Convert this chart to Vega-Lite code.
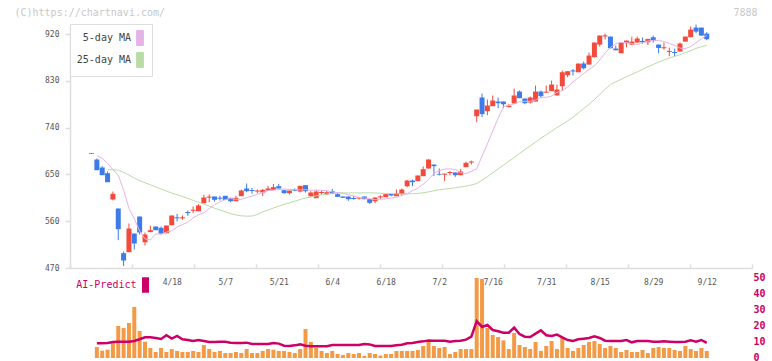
{
 "$schema": "https://vega.github.io/schema/vega-lite/v6.json",
 "width": 682, "height": 334,
 "autosize": {"type": "none"},
 "padding": {"left": 70, "top": 24, "right": 20, "bottom": 3},
 "background": "white",
 "config": {"view": {"stroke": null}, "axis": {"labelFont": "DejaVu Sans Mono", "titleFont": "DejaVu Sans Mono", "grid": false}, "legend": {"labelFont": "DejaVu Sans Mono"}},
 "data": {"values": [
{"i":0,"o":689.5,"h":691,"l":689.5,"c":691},
{"i":1,"o":678.6,"h":680.6,"l":658.1,"c":658.1,"v":6.9,"a":9.2,"m5":686},
{"i":2,"o":663.3,"h":665.8,"l":648.5,"c":648.5,"v":4.6,"a":9.2,"m5":681},
{"i":3,"o":652.3,"h":655.6,"l":635,"c":635,"v":5.2,"a":9.4,"m5":671,"m25":659},
{"i":4,"o":601.7,"h":617,"l":600,"c":612.7,"v":10.2,"a":10,"m5":659,"m25":659},
{"i":5,"o":584.4,"h":584.4,"l":523.5,"c":544.6,"v":20,"a":10.2,"m5":648.9,"m25":658},
{"i":6,"o":498.5,"h":501.7,"l":473.5,"c":484.4,"v":18.75,"a":10.2,"m5":619.8,"m25":654},
{"i":7,"o":500.4,"h":555.6,"l":500.4,"c":545.9,"v":21.9,"a":10.2,"m5":585,"m25":649},
{"i":8,"o":536.3,"h":536.3,"l":505.6,"c":517.1,"v":31.9,"a":10.6,"m5":564.5,"m25":643},
{"i":9,"o":569,"h":569,"l":534.4,"c":538.3,"v":16.9,"a":11.7,"m5":540.9,"m25":638},
{"i":10,"o":519.6,"h":538.3,"l":513.3,"c":534.4,"v":10.2,"a":12.9,"m5":526.1,"m25":634},
{"i":11,"o":539,"h":551.7,"l":539,"c":542.7,"v":6.25,"a":12.9,"m5":524,"m25":630},
{"i":12,"o":549.8,"h":549.8,"l":542.7,"c":542.7,"v":3.75,"a":12.5,"m5":535.7,"m25":626},
{"i":13,"o":547.3,"h":549.8,"l":534.4,"c":536.3,"v":6.25,"a":11.9,"m5":535,"m25":622},
{"i":14,"o":536.9,"h":551.7,"l":536.9,"c":551.7,"v":3.75,"a":14.2,"m5":538.9,"m25":618},
{"i":15,"o":552.3,"h":571,"l":552.3,"c":571,"v":5.6,"a":12.1,"m5":541.6,"m25":614},
{"i":16,"o":567.5,"h":574.2,"l":559.4,"c":565.5,"v":4.4,"a":13.75,"m5":548.9,"m25":611},
{"i":17,"o":565.5,"h":571,"l":562.7,"c":567.5,"v":3.75,"a":11.7,"m5":553.5,"m25":607.5},
{"i":18,"o":577.7,"h":580.6,"l":570.4,"c":575.7,"v":3.75,"a":11.25,"m5":558.4,"m25":604},
{"i":19,"o":580,"h":588.3,"l":575.4,"c":582,"v":4.4,"a":10.6,"m5":566.4,"m25":600},
{"i":20,"o":579.2,"h":592.8,"l":579.2,"c":590.2,"v":3.75,"a":11.25,"m5":572.3,"m25":596.5},
{"i":21,"o":594.7,"h":610.8,"l":594.7,"c":605.6,"v":8.1,"a":10.6,"m5":576.1,"m25":593},
{"i":22,"o":605.2,"h":611.4,"l":596.6,"c":607.2,"v":5.6,"a":10,"m5":584.1,"m25":589},
{"i":23,"o":607.5,"h":607.5,"l":597.9,"c":601.1,"v":3.75,"a":10,"m5":592,"m25":585},
{"i":24,"o":605.3,"h":608.8,"l":599.8,"c":603.3,"v":4.4,"a":10.2,"m5":596.9,"m25":581.5},
{"i":25,"o":608.8,"h":608.8,"l":601.1,"c":601.1,"v":3.1,"a":10.2,"m5":601.5,"m25":578.1},
{"i":26,"o":605,"h":605,"l":596.6,"c":598.5,"v":3.1,"a":9.6,"m5":603.7,"m25":574.5},
{"i":27,"o":598.5,"h":608.8,"l":598.5,"c":605,"v":3.75,"a":9.4,"m5":602.2,"m25":572.1},
{"i":28,"o":608.2,"h":620.9,"l":608.2,"c":619,"v":3.1,"a":9.4,"m5":601.9,"m25":570.4},
{"i":29,"o":622.9,"h":632.5,"l":615.8,"c":617.7,"v":5.6,"a":9.6,"m5":605.5,"m25":569.7},
{"i":30,"o":620,"h":624.2,"l":612.7,"c":618,"v":3.1,"a":8.75,"m5":608.3,"m25":569.9},
{"i":31,"o":617,"h":620.9,"l":613.9,"c":619,"v":3.1,"a":8.75,"m5":611.7,"m25":572.9},
{"i":32,"o":615.2,"h":622.2,"l":608.8,"c":620.3,"v":4.4,"a":8.75,"m5":615.6,"m25":578.2},
{"i":33,"o":619,"h":628,"l":619,"c":622.9,"v":5.6,"a":8.75,"m5":618.7,"m25":581.2},
{"i":34,"o":620.3,"h":631.8,"l":620.3,"c":625.4,"v":5.2,"a":9.4,"m5":619.5,"m25":585.4},
{"i":35,"o":627.3,"h":631.8,"l":622.9,"c":622.9,"v":4.4,"a":9,"m5":621,"m25":588.9},
{"i":36,"o":619.7,"h":619.7,"l":612.6,"c":613.9,"v":4.4,"a":7.7,"m5":621.9,"m25":592.5},
{"i":37,"o":613.9,"h":619,"l":611.3,"c":619,"v":3.75,"a":7.5,"m5":621.1,"m25":595.3},
{"i":38,"o":620.7,"h":622.9,"l":617.7,"c":618.7,"v":3.1,"a":7.9,"m5":620.8,"m25":598.4},
{"i":39,"o":617,"h":628,"l":615.2,"c":628,"v":5.6,"a":8.5,"m5":620.1,"m25":601.7},
{"i":40,"o":629.3,"h":629.3,"l":615.2,"c":617.7,"v":18.1,"a":7.7,"m5":620.7,"m25":604.7},
{"i":41,"o":608.1,"h":617.7,"l":606.2,"c":615.2,"v":10,"a":7.3,"m5":619.6,"m25":606.6},
{"i":42,"o":604.3,"h":620.3,"l":604.3,"c":617.1,"v":6.25,"a":7.3,"m5":619.9,"m25":608.6},
{"i":43,"o":614.2,"h":619,"l":611.3,"c":616.2,"v":4.4,"a":7.3,"m5":619.5,"m25":610.6},
{"i":44,"o":612,"h":618.4,"l":610,"c":615.8,"v":3.1,"a":7.3,"m5":618.7,"m25":612.1},
{"i":45,"o":617.7,"h":622.2,"l":612.6,"c":612.6,"v":4.4,"a":8.1,"m5":616.3,"m25":613.5},
{"i":46,"o":612,"h":614.5,"l":606.8,"c":606.8,"v":2.5,"a":8.1,"m5":615.2,"m25":614.4},
{"i":47,"o":607.5,"h":607.5,"l":604.9,"c":604.9,"v":1.9,"a":8.1,"m5":613.6,"m25":614.5},
{"i":48,"o":607.5,"h":607.5,"l":599.1,"c":602.3,"v":3.1,"a":8.1,"m5":611.1,"m25":614.4},
{"i":49,"o":604.6,"h":608.8,"l":601.7,"c":602.6,"v":2.5,"a":8.1,"m5":608.5,"m25":614.5},
{"i":50,"o":603.6,"h":606.2,"l":601.7,"c":605.6,"v":3.1,"a":8.1,"m5":606,"m25":614.4},
{"i":51,"o":607.5,"h":607.5,"l":602.3,"c":602.3,"v":1.25,"a":8.75,"m5":604.4,"m25":614.6},
{"i":52,"o":602.3,"h":602.3,"l":593.4,"c":595.3,"v":3.1,"a":8.5,"m5":603.5,"m25":614.7},
{"i":53,"o":598.5,"h":605.6,"l":594.7,"c":605.6,"v":2.5,"a":7.5,"m5":601.6,"m25":614.3},
{"i":54,"o":605.8,"h":610,"l":603,"c":607.8,"v":1.5,"a":7.5,"m5":602.2,"m25":613.8},
{"i":55,"o":606.2,"h":612,"l":606.2,"c":612,"v":2.5,"a":7.5,"m5":603,"m25":613.4},
{"i":56,"o":612.6,"h":612.6,"l":608.1,"c":609.4,"v":2.5,"a":7.5,"m5":604.5,"m25":613.1},
{"i":57,"o":608.1,"h":620.9,"l":608.1,"c":613.9,"v":4.4,"a":7.9,"m5":605.9,"m25":612.8},
{"i":58,"o":612,"h":622.9,"l":608.8,"c":620.9,"v":4.4,"a":8.3,"m5":609.6,"m25":612.5},
{"i":59,"o":627.3,"h":639.5,"l":625.4,"c":638.2,"v":4.4,"a":9.2,"m5":612.7,"m25":612.4},
{"i":60,"o":638.2,"h":640.2,"l":627.3,"c":635,"v":4.4,"a":9.4,"m5":618.9,"m25":613},
{"i":61,"o":637,"h":647.9,"l":637,"c":647.9,"v":5,"a":10,"m5":623.5,"m25":613.4},
{"i":62,"o":646.6,"h":665.2,"l":646.6,"c":660,"v":7.5,"a":10.4,"m5":631.2,"m25":614.8},
{"i":63,"o":661.4,"h":678.7,"l":661.4,"c":678.7,"v":10,"a":11,"m5":640.4,"m25":616.4},
{"i":64,"o":669,"h":669,"l":646.6,"c":665.8,"v":7.5,"a":10.8,"m5":651.9,"m25":618.8},
{"i":65,"o":651,"h":661.4,"l":648,"c":649.5,"v":6.25,"a":10.8,"m5":657.4,"m25":620.3},
{"i":66,"o":649.5,"h":651.5,"l":637,"c":651.5,"v":6.9,"a":10.8,"m5":660.3,"m25":621.6},
{"i":67,"o":652.7,"h":656.2,"l":648,"c":654.7,"v":2.5,"a":10.2,"m5":660.6,"m25":623},
{"i":68,"o":653.7,"h":653.7,"l":645.3,"c":648.5,"v":3.75,"a":10.6,"m5":659.4,"m25":624.4},
{"i":69,"o":648.5,"h":660.7,"l":648.5,"c":655.6,"v":5.6,"a":10.8,"m5":653.4,"m25":625.8},
{"i":70,"o":663.9,"h":674.8,"l":663.9,"c":672.2,"v":5.6,"a":11.5,"m5":651.5,"m25":627.4},
{"i":71,"o":672.8,"h":676.7,"l":669,"c":674.8,"v":5.6,"a":13.3,"m5":656,"m25":629.8},
{"i":72,"o":762,"h":774.8,"l":750.5,"c":774.8,"v":50,"a":23.1,"m5":660.9,"m25":632.4},
{"i":73,"o":797.9,"h":805.6,"l":760.1,"c":765.9,"v":49.4,"a":19.4,"m5":685.1,"m25":639.2},
{"i":74,"o":771.6,"h":794,"l":763.9,"c":782.5,"v":18.75,"a":20.6,"m5":708.6,"m25":645.8},
{"i":75,"o":781.2,"h":801.8,"l":781.2,"c":792.1,"v":14.4,"a":17.5,"m5":733.8,"m25":653},
{"i":76,"o":790.2,"h":797.9,"l":777.4,"c":787,"v":13.1,"a":16.7,"m5":757.8,"m25":660.5},
{"i":77,"o":790.2,"h":790.2,"l":777.4,"c":785,"v":11,"a":15.8,"m5":780.5,"m25":667.8},
{"i":78,"o":779.3,"h":785.7,"l":779.3,"c":782.5,"v":5.6,"a":15.8,"m5":782.5,"m25":675.4},
{"i":79,"o":786.4,"h":815.2,"l":786.4,"c":801.8,"v":15.6,"a":19,"m5":785.8,"m25":682.5},
{"i":80,"o":809.4,"h":811.4,"l":796.6,"c":796.6,"v":8.1,"a":15,"m5":789.7,"m25":690.3},
{"i":81,"o":796,"h":796,"l":785,"c":787,"v":6.9,"a":13.3,"m5":790.6,"m25":697.7},
{"i":82,"o":788.3,"h":799.8,"l":786.4,"c":797.9,"v":5.6,"a":13.1,"m5":790.6,"m25":704.8},
{"i":83,"o":790.2,"h":821,"l":790.2,"c":809.4,"v":10,"a":15.2,"m5":793.2,"m25":712.1},
{"i":84,"o":809.4,"h":811.4,"l":796.6,"c":800.5,"v":4.4,"a":17.3,"m5":798.5,"m25":719.7},
{"i":85,"o":807.2,"h":821,"l":807.2,"c":809.2,"v":7.5,"a":14.2,"m5":798.3,"m25":726.2},
{"i":86,"o":810.1,"h":830.6,"l":810.1,"c":822.9,"v":10.6,"a":13.75,"m5":800.7,"m25":733.1},
{"i":87,"o":801.8,"h":822.9,"l":801.8,"c":813.3,"v":5.6,"a":14.6,"m5":807.8,"m25":740.1},
{"i":88,"o":819.6,"h":849.7,"l":811.3,"c":846.5,"v":13.1,"a":12.9,"m5":810.9,"m25":746.2},
{"i":89,"o":840.8,"h":848.5,"l":836.9,"c":848.5,"v":6.25,"a":11.25,"m5":818.3,"m25":752.8},
{"i":90,"o":850,"h":853,"l":840.1,"c":848,"v":4.4,"a":10.6,"m5":827.9,"m25":760.1},
{"i":91,"o":846.5,"h":863.2,"l":846.5,"c":863.2,"v":6.25,"a":11.7,"m5":836,"m25":768.1},
{"i":92,"o":863.2,"h":867.1,"l":851.7,"c":854.2,"v":8.1,"a":12.1,"m5":844.1,"m25":776.7},
{"i":93,"o":861.3,"h":884.4,"l":861.3,"c":878.6,"v":10,"a":12.5,"m5":852.2,"m25":784.7},
{"i":94,"o":875.4,"h":903.6,"l":875.4,"c":903.6,"v":10.6,"a":13.5,"m5":858.7,"m25":793.9},
{"i":95,"o":899.7,"h":917.1,"l":895.9,"c":917.1,"v":8.75,"a":12.5,"m5":869.7,"m25":803.8},
{"i":96,"o":915.4,"h":920.9,"l":909.4,"c":917.4,"v":6.25,"a":10.8,"m5":883.3,"m25":813.6},
{"i":97,"o":915.1,"h":915.1,"l":892.7,"c":892.7,"v":7.5,"a":10.6,"m5":894.1,"m25":823.3},
{"i":98,"o":892,"h":897.8,"l":888.8,"c":888.8,"v":6.25,"a":10.6,"m5":901.8,"m25":828},
{"i":99,"o":883.1,"h":903.6,"l":883.1,"c":903.6,"v":3.75,"a":10.6,"m5":903.8,"m25":832.9},
{"i":100,"o":902.3,"h":907.4,"l":894.6,"c":907.4,"v":5,"a":11.25,"m5":903.8,"m25":837.8},
{"i":101,"o":899.7,"h":915.1,"l":899.7,"c":905.5,"v":3.75,"a":9.8,"m5":901.9,"m25":842.4},
{"i":102,"o":903.6,"h":915.1,"l":903.6,"c":911.3,"v":3.75,"a":10.6,"m5":899.6,"m25":847.1},
{"i":103,"o":906.8,"h":913.2,"l":901.7,"c":904.2,"v":5,"a":10.6,"m5":903.3,"m25":852.2},
{"i":104,"o":904.2,"h":910.6,"l":898.5,"c":910.6,"v":3.1,"a":10.6,"m5":906.4,"m25":857},
{"i":105,"o":913.8,"h":917,"l":903.6,"c":907.4,"v":6.25,"a":10.2,"m5":907.8,"m25":861.4},
{"i":106,"o":899.7,"h":899.7,"l":883.1,"c":893.3,"v":6.9,"a":10.2,"m5":907.8,"m25":865.8},
{"i":107,"o":892.6,"h":903.6,"l":890.1,"c":894.6,"v":6.25,"a":10.4,"m5":905.4,"m25":870.1},
{"i":108,"o":885.6,"h":894,"l":877.3,"c":887.6,"v":6.25,"a":10.2,"m5":901.8,"m25":873.9},
{"i":109,"o":885.4,"h":892,"l":877.3,"c":883.4,"v":5,"a":10,"m5":898.3,"m25":877},
{"i":110,"o":886.3,"h":903.6,"l":886.3,"c":901.7,"v":4.4,"a":10,"m5":893,"m25":880.3},
{"i":111,"o":905.5,"h":915.1,"l":905.5,"c":915.1,"v":7.5,"a":10.2,"m5":891.8,"m25":884.1},
{"i":112,"o":913.8,"h":934.4,"l":913.8,"c":928.6,"v":5.6,"a":11,"m5":896.2,"m25":887.8},
{"i":113,"o":932.4,"h":938.2,"l":921.5,"c":924.7,"v":4.4,"a":10.2,"m5":903.2,"m25":892.4},
{"i":114,"o":932.4,"h":932.4,"l":917,"c":917,"v":6.25,"a":11.25,"m5":910.8,"m25":895.5},
{"i":115,"o":920.9,"h":923.5,"l":908.1,"c":910,"v":4.4,"a":9.4,"m5":917.4,"m25":898.2}
 ]},
 "resolve": {"scale": {"y": "independent"}, "axis": {"x": "independent", "y": "independent"}},
 "layer": [
  {
   "encoding": {
    "x": {"field": "i", "type": "quantitative", "scale": {"domain": [-4.02, 123.46], "nice": false, "zero": false, "padding": 0},
      "axis": {"orient": "bottom", "offset": -90, "values": [-4, 7.57, 19.16, 30.75, 42.34, 53.93, 65.51, 77.1, 88.69, 100.28, 111.87, 123.4], "labels": false, "tickSize": -4, "tickColor": "#dddddd", "tickWidth": 1.5, "domainColor": "#dddddd", "domainWidth": 1.5, "title": null, "grid": false}}
   },
   "layer": [
    {"mark": {"type": "rule", "strokeWidth": 1},
     "encoding": {
      "y": {"field": "l", "type": "quantitative", "scale": {"domain": [470, 939.3], "range": [244, 0], "nice": false, "zero": false},
        "axis": {"orient": "left", "values": [470, 560, 650, 740, 830, 920], "tickSize": 5, "tickColor": "#dddddd", "tickWidth": 1.5, "domainColor": "#dddddd", "domainWidth": 1.5, "labelColor": "#555555", "labelFontSize": 8, "labelPadding": 6, "grid": false,
          "title": "(C)https://chartnavi.com/", "titleX": -56, "titleY": -9, "titleAlign": "left", "titleBaseline": "alphabetic", "titleAngle": 0, "titleColor": "#c8c8c8", "titleFontSize": 10, "titleFontWeight": "normal"}},
      "y2": {"field": "h"},
      "color": {"condition": {"test": "datum.c >= datum.o", "value": "#f24a3b"}, "value": "#3d7be8"}
     }},
    {"mark": {"type": "bar", "width": 5},
     "encoding": {
      "y": {"field": "o", "type": "quantitative",
        "axis": {"orient": "left", "values": [470, 560, 650, 740, 830, 920], "tickSize": 5, "tickColor": "#dddddd", "tickWidth": 1.5, "domainColor": "#dddddd", "domainWidth": 1.5, "labelColor": "#555555", "labelFontSize": 8, "labelPadding": 6, "grid": false,
          "title": "(C)https://chartnavi.com/", "titleX": -56, "titleY": -9, "titleAlign": "left", "titleBaseline": "alphabetic", "titleAngle": 0, "titleColor": "#c8c8c8", "titleFontSize": 10, "titleFontWeight": "normal"}},
      "y2": {"field": "c"},
      "color": {"condition": {"test": "datum.c >= datum.o", "value": "#f24a3b"}, "value": "#3d7be8"}
     }},
    {"mark": {"type": "line", "strokeWidth": 1},
     "encoding": {
      "y": {"field": "m25", "type": "quantitative",
        "axis": {"orient": "left", "values": [470, 560, 650, 740, 830, 920], "tickSize": 5, "tickColor": "#dddddd", "tickWidth": 1.5, "domainColor": "#dddddd", "domainWidth": 1.5, "labelColor": "#555555", "labelFontSize": 8, "labelPadding": 6, "grid": false,
          "title": "(C)https://chartnavi.com/", "titleX": -56, "titleY": -9, "titleAlign": "left", "titleBaseline": "alphabetic", "titleAngle": 0, "titleColor": "#c8c8c8", "titleFontSize": 10, "titleFontWeight": "normal"}},
      "stroke": {"datum": "25-day MA", "type": "nominal",
        "scale": {"domain": ["5-day MA", "25-day MA"], "range": ["#e6b3e6", "#b8dca6"]},
        "legend": {"orient": "none", "legendX": 0, "legendY": 0, "title": null, "padding": 6, "strokeColor": "#dddddd", "fillColor": "white",
          "symbolType": "M-0.45,-1H0.45V1H-0.45Z", "symbolSize": 225, "symbolStrokeWidth": 1, "symbolStrokeColor": "#555555", "symbolOffset": 56,
          "labelAlign": "right", "labelOffset": -17, "labelFontSize": 10, "labelColor": "#444444", "rowPadding": 2,
          "encode": {"symbols": {"update": {"fill": {"scale": "stroke", "field": "value"}, "stroke": {"value": "#555555"}, "strokeWidth": {"value": 1}}}}}}
     }},
    {"mark": {"type": "line", "strokeWidth": 1},
     "encoding": {
      "y": {"field": "m5", "type": "quantitative",
        "axis": {"orient": "left", "values": [470, 560, 650, 740, 830, 920], "tickSize": 5, "tickColor": "#dddddd", "tickWidth": 1.5, "domainColor": "#dddddd", "domainWidth": 1.5, "labelColor": "#555555", "labelFontSize": 8, "labelPadding": 6, "grid": false,
          "title": "(C)https://chartnavi.com/", "titleX": -56, "titleY": -9, "titleAlign": "left", "titleBaseline": "alphabetic", "titleAngle": 0, "titleColor": "#c8c8c8", "titleFontSize": 10, "titleFontWeight": "normal"}},
      "stroke": {"datum": "5-day MA", "type": "nominal"}
     }}
   ]
  },
  {
   "encoding": {
    "x": {"field": "i", "type": "quantitative", "scale": {"domain": [-4.02, 123.46], "nice": false, "zero": false, "padding": 0},
      "axis": {"orient": "top", "offset": -258, "values": [15, 25, 35, 45, 55, 65, 75, 85, 95, 105, 115],
        "labelExpr": "['4/18','5/7','5/21','6/4','6/18','7/2','7/16','7/31','8/15','8/29','9/12'][round((datum.value-15)/10)]",
        "domain": false, "ticks": false, "tickSize": 0, "labelPadding": 0, "labelBaseline": "middle", "labelFontSize": 8, "labelColor": "#555555",
        "labelFlush": false, "labelOverlap": false, "grid": false,
        "title": "7888", "titleX": 687, "titleY": -267, "titleAlign": "right", "titleBaseline": "alphabetic", "titleAngle": 0,
        "titleColor": "#c8c8c8", "titleFontSize": 10, "titleFontWeight": "normal"}}
   },
   "layer": [
    {"mark": {"type": "bar", "width": 4, "color": "#f29a45"},
     "encoding": {
      "y": {"field": "v", "type": "quantitative", "scale": {"domain": [0, 50], "range": [334, 254], "nice": false},
        "axis": {"orient": "right", "values": [0, 10, 20, 30, 40, 50], "domain": false, "ticks": false, "tickSize": 0, "labelPadding": 1, "labelOffset": -1,
          "labelColor": "#cc0066", "labelFontSize": 10, "labelFontWeight": "bold", "title": null, "grid": false}}
     }},
    {"mark": {"type": "line", "strokeWidth": 2.5},
     "encoding": {
      "y": {"field": "a", "type": "quantitative",
        "axis": {"orient": "right", "values": [0, 10, 20, 30, 40, 50], "domain": false, "ticks": false, "tickSize": 0, "labelPadding": 1, "labelOffset": -1,
          "labelColor": "#cc0066", "labelFontSize": 10, "labelFontWeight": "bold", "title": null, "grid": false}},
      "color": {"datum": "AI-Predict", "type": "nominal", "scale": {"range": ["#cc0066"]},
        "legend": {"orient": "none", "legendX": 67.5, "legendY": 253, "title": null, "padding": 0,
          "symbolType": "M-0.45,-1H0.45V1H-0.45Z", "symbolSize": 240, "symbolFillColor": "#cc0066", "symbolStrokeColor": "#cc0066", "symbolStrokeWidth": 0,
          "labelAlign": "right", "labelOffset": -17, "labelFontSize": 10, "labelColor": "#cc0066",
          "encode": {"symbols": {"update": {"fill": {"value": "#cc0066"}, "stroke": {"value": "#cc0066"}, "strokeWidth": {"value": 0}}}}}}
     }}
   ]
  }
 ]
}
